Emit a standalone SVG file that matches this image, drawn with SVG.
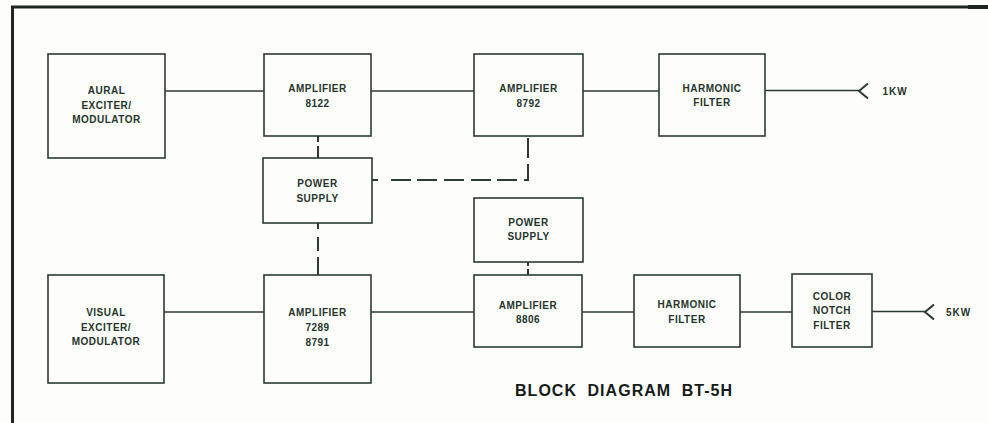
<svg xmlns="http://www.w3.org/2000/svg" width="988" height="423" viewBox="0 0 988 423">
<style>
.box{fill:#fdfdfb;stroke:#2b3b31;stroke-width:1.6}
.ln{fill:none;stroke:#2b3b31;stroke-width:1.6}
.arr{fill:none;stroke:#2b3b31;stroke-width:2}
.dash{fill:none;stroke:#2b3b31;stroke-width:2;stroke-dasharray:19 7}
.t{font-family:"Liberation Sans",Arial,sans-serif;font-weight:bold;font-size:10px;fill:#26352b;text-anchor:middle;letter-spacing:0.5px}
.title{font-family:"Liberation Sans",Arial,sans-serif;font-weight:bold;font-size:16px;fill:#151a17;letter-spacing:1px}
</style>
<rect width="988" height="423" fill="#fdfdfb"/>
<g id="frame">
<path d="M12.5,423 V7 H988" fill="none" stroke="#1e2621" stroke-width="3"/>
<path d="M968,7 H988" stroke="#1e2621" stroke-width="4"/>
</g>
<g id="connectors">
<path class="ln" d="M165,91 H264"/>
<path class="ln" d="M371,91 H474"/>
<path class="ln" d="M583,91 H659"/>
<path class="ln" d="M765,90.5 H859"/>
<path class="arr" d="M868,83.5 L859,91 L868,98.5"/>
<path class="ln" d="M164,312 H264"/>
<path class="ln" d="M371,312 H474"/>
<path class="ln" d="M582,312 H634"/>
<path class="ln" d="M740,312 H792"/>
<path class="ln" d="M872,311.5 H925"/>
<path class="arr" d="M934,304.5 L925,312 L934,319.5"/>
<path class="dash" d="M318,136 V158" style="stroke-dasharray:6 4 14 4"/>
<path class="dash" d="M318,223 V275" style="stroke-dasharray:6 8 14 6 20"/>
<path class="dash" d="M372,180 H528 V136" style="stroke-dasharray:6 13 20 6 20 7 20 7 20 6 20 7 20 6 20"/>
<path class="dash" d="M528,262 V275" style="stroke-dasharray:4 3 8"/>
</g>
<g id="aural">
<rect class="box" x="48" y="54" width="117" height="104"/>
<text class="t" x="106.5" y="94">AURAL</text>
<text class="t" x="106.5" y="109">EXCITER/</text>
<text class="t" x="106.5" y="123">MODULATOR</text>
</g>
<g id="amp8122">
<rect class="box" x="264" y="54" width="107" height="82"/>
<text class="t" x="317.5" y="92">AMPLIFIER</text>
<text class="t" x="317.5" y="107">8122</text>
</g>
<g id="amp8792">
<rect class="box" x="474" y="54" width="109" height="82"/>
<text class="t" x="528.5" y="92">AMPLIFIER</text>
<text class="t" x="528.5" y="107">8792</text>
</g>
<g id="harm1">
<rect class="box" x="659" y="54" width="106" height="82"/>
<text class="t" x="712" y="92">HARMONIC</text>
<text class="t" x="712" y="106">FILTER</text>
</g>
<text class="t" x="895" y="94.5" style="letter-spacing:1px">1KW</text>
<g id="ps1">
<rect class="box" x="263" y="158" width="109" height="65"/>
<text class="t" x="317.5" y="187">POWER</text>
<text class="t" x="317.5" y="202">SUPPLY</text>
</g>
<g id="ps2">
<rect class="box" x="474" y="198" width="109" height="64"/>
<text class="t" x="528.5" y="226">POWER</text>
<text class="t" x="528.5" y="240">SUPPLY</text>
</g>
<g id="visual">
<rect class="box" x="48" y="275" width="116" height="108"/>
<text class="t" x="106" y="316">VISUAL</text>
<text class="t" x="106" y="331">EXCITER/</text>
<text class="t" x="106" y="345">MODULATOR</text>
</g>
<g id="amp7289">
<rect class="box" x="264" y="275" width="107" height="108"/>
<text class="t" x="317.5" y="316">AMPLIFIER</text>
<text class="t" x="317.5" y="331">7289</text>
<text class="t" x="317.5" y="346">8791</text>
</g>
<g id="amp8806">
<rect class="box" x="474" y="275" width="108" height="72"/>
<text class="t" x="528" y="309">AMPLIFIER</text>
<text class="t" x="528" y="323">8806</text>
</g>
<g id="harm2">
<rect class="box" x="634" y="275" width="106" height="72"/>
<text class="t" x="687" y="308">HARMONIC</text>
<text class="t" x="687" y="323">FILTER</text>
</g>
<g id="notch">
<rect class="box" x="792" y="274" width="80" height="73"/>
<text class="t" x="832" y="300">COLOR</text>
<text class="t" x="832" y="314">NOTCH</text>
<text class="t" x="832" y="329">FILTER</text>
</g>
<text class="t" x="958.5" y="315.5" style="letter-spacing:1px">5KW</text>
<text class="title" x="515" y="396" textLength="218" lengthAdjust="spacing" style="word-spacing:5px">BLOCK DIAGRAM BT-5H</text>
</svg>
